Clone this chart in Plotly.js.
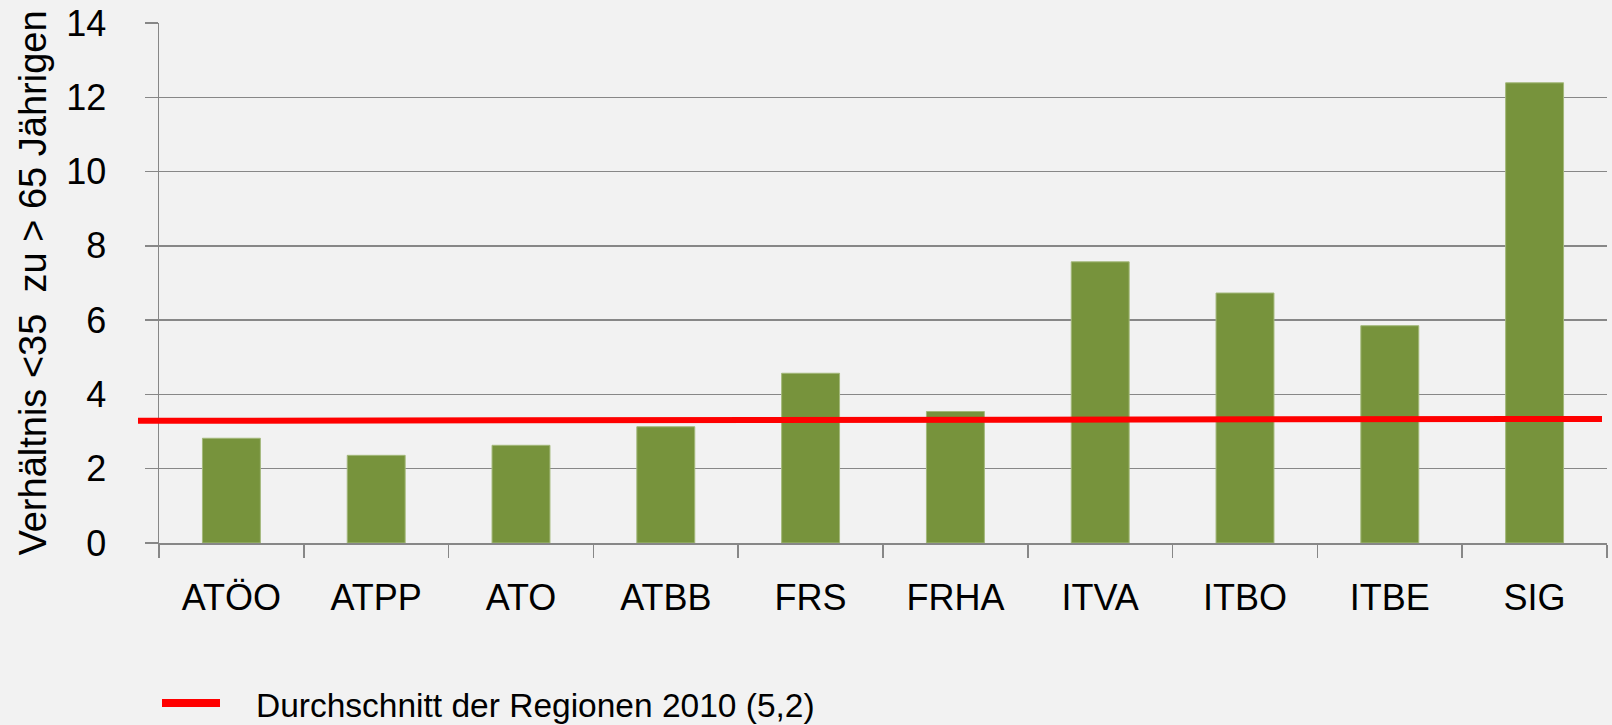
<!DOCTYPE html>
<html>
<head>
<meta charset="utf-8">
<script src="https://cdn.plot.ly/plotly-3.0.1.min.js"></script>
<style>
html,body{margin:0;padding:0;background:#f2f2f2;}
#chart{width:1612px;height:725px;}
</style>
</head>
<body>
<div id="chart"></div>
<script>
// Data
const regions = ["ATÖO", "ATPP", "ATO", "ATBB", "FRS", "FRHA", "ITVA", "ITBO", "ITBE", "SIG"];
const ratios = [2.82, 2.36, 2.63, 3.13, 4.57, 3.54, 7.57, 6.73, 5.85, 12.39];
const averageLine = [3.29, 3.34]; // red reference line (left end, right end)
const averageLabel = "Durchschnitt der Regionen 2010 (5,2)";
const yTitle = "Verhältnis &lt;35 \u00a0zu &gt; 65 Jährigen";
const yTicks = [0, 2, 4, 6, 8, 10, 12, 14];

const FONT = "Liberation Sans, Arial, sans-serif";
const GRID = "#878787";

const traces = [{
  type: "bar",
  x: regions,
  y: ratios,
  marker: {color: "#77933c", line: {color: "#a3b87a", width: 1}},
  showlegend: false,
  hoverinfo: "x+y"
}];

const layout = {
  width: 1612,
  height: 725,
  paper_bgcolor: "#f2f2f2",
  plot_bgcolor: "#f2f2f2",
  margin: {l: 159, r: 5, t: 23, b: 182},
  bargap: 0.6,
  showlegend: false,
  font: {family: FONT, color: "#000"},
  xaxis: {
    type: "category",
    tickson: "boundaries",
    ticks: "outside",
    ticklen: 13,
    tickwidth: 1.5,
    tickcolor: GRID,
    showline: true,
    linecolor: GRID,
    linewidth: 1.5,
    showgrid: false,
    tickfont: {family: FONT, size: 36, color: "#000"},
    ticklabelstandoff: 22,
    automargin: false
  },
  yaxis: {
    range: [0, 14],
    tickvals: yTicks,
    ticktext: yTicks.map(String),
    ticks: "outside",
    ticklen: 13,
    tickwidth: 1.5,
    tickcolor: GRID,
    showline: true,
    linecolor: GRID,
    linewidth: 1.5,
    showgrid: true,
    gridcolor: GRID,
    gridwidth: 1.5,
    zeroline: false,
    tickfont: {family: FONT, size: 36, color: "#000"},
    ticklabelstandoff: 31,
    automargin: false,
    title: {text: yTitle, font: {family: FONT, size: 38, color: "#000"}, standoff: 8}
  },
  shapes: [
    {
      type: "line", xref: "paper", yref: "y",
      x0: (138 - 159) / 1448, x1: (1602 - 159) / 1448,
      y0: averageLine[0], y1: averageLine[1],
      line: {color: "#ff0000", width: 6}
    },
    {
      type: "line", xref: "paper", yref: "paper",
      x0: (162 - 159) / 1448, x1: (220 - 159) / 1448,
      y0: (543 - 703) / 520, y1: (543 - 703) / 520,
      line: {color: "#ff0000", width: 8}
    }
  ],
  annotations: [{
    xref: "paper", yref: "paper",
    x: (254 - 159) / 1448, y: (543 - 705) / 520,
    xanchor: "left", yanchor: "middle",
    text: averageLabel,
    showarrow: false,
    font: {family: FONT, size: 33.5, color: "#000"}
  }]
};

Plotly.newPlot("chart", traces, layout, {displayModeBar: false, staticPlot: true});
</script>
</body>
</html>
